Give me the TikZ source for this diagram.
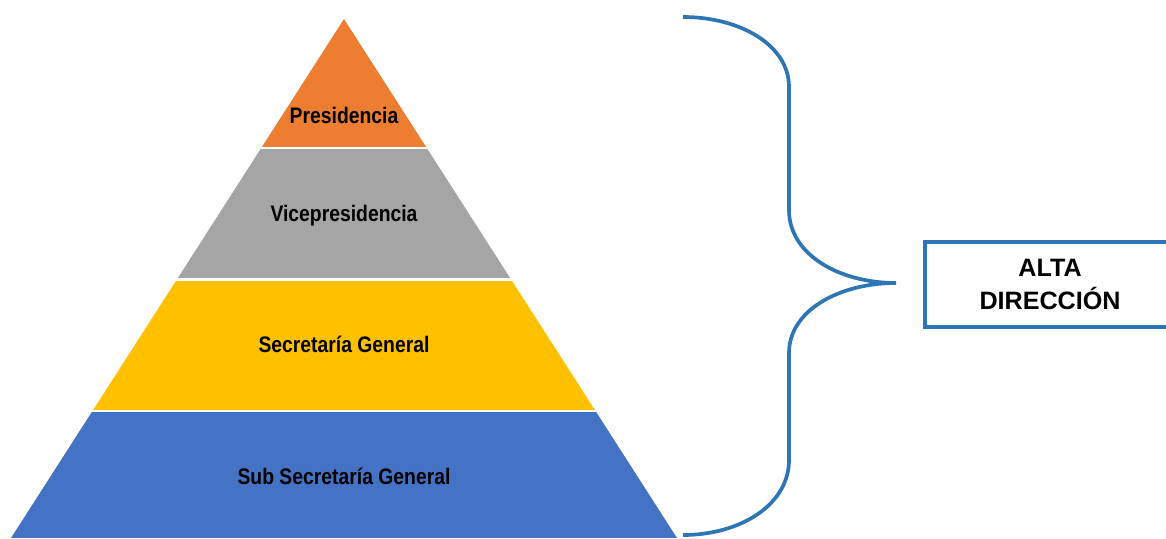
\documentclass[tikz,border=0pt]{standalone}
\usepackage{fontspec}
\setmainfont{Liberation Sans}
\newfontfamily\narrowfont[FakeStretch=0.86]{Liberation Sans}
\usetikzlibrary{positioning}

\definecolor{presOrange}{HTML}{ED7D31}
\definecolor{viceGray}{HTML}{A5A5A5}
\definecolor{secYellow}{HTML}{FFC000}
\definecolor{subBlue}{HTML}{4472C4}
\definecolor{braceBlue}{HTML}{2E75B6}

\tikzset{
    level/.style={font=\narrowfont\bfseries\fontsize{12.8}{15}\selectfont, text=black, anchor=base, inner sep=0pt},
    gap/.style={white, line width=1.4pt},
    altabox/.style={draw=braceBlue, line width=2.1pt, align=center, minimum width=5cm, minimum height=1.7cm,
        font=\bfseries\fontsize{14.3}{18.8}\selectfont}
}

\begin{document}
\begin{tikzpicture}
\useasboundingbox (0,0) rectangle (23.32,10.76);

\coordinate (apex) at (6.88,10.38);
\coordinate (baseL) at (0.22,0);
\coordinate (baseR) at (13.54,0);

\begin{scope}
\clip (apex) -- (baseL) -- (baseR) -- cycle;
\fill[presOrange] (0,7.796) rectangle (14,10.5);
\fill[viceGray] (0,5.166) rectangle (14,7.796);
\fill[secYellow] (0,2.536) rectangle (14,5.166);
\fill[subBlue] (0,0) rectangle (14,2.536);
\draw[gap] (0,7.796) -- (14,7.796);
\draw[gap] (0,5.166) -- (14,5.166);
\draw[gap] (0,2.536) -- (14,2.536);
\end{scope}

\node[level] (pres) at (6.88,8.29) {Presidencia};
\node[level] (vice) at (6.88,6.33) {Vicepresidencia};
\node[level] (sec) at (6.88,3.71) {Secretaría General};
\node[level] (sub) at (6.88,1.07) {Sub Secretaría General};

\draw[braceBlue, line width=2.1pt] (13.66,10.42) .. controls (14.80,10.42) and (15.78,9.86) .. (15.78,9.02)
    -- (15.78,6.56) .. controls (15.78,5.66) and (16.80,5.10) .. (17.92,5.10)
    .. controls (16.80,5.10) and (15.78,4.56) .. (15.78,3.70)
    -- (15.78,1.56) .. controls (15.78,0.66) and (14.80,0.06) .. (13.66,0.06);

\node[altabox] (alta) at (21.0,5.07) {ALTA\\DIRECCIÓN};

\end{tikzpicture}
\end{document}
